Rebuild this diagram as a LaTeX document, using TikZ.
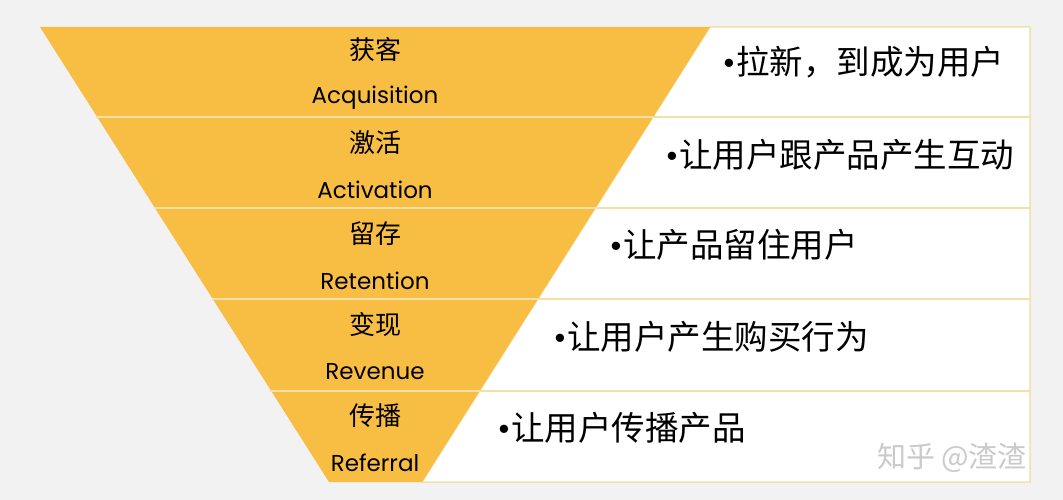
\documentclass[tikz,border=0pt]{standalone}
\usepackage{fontspec}
\setmainfont{Poppins}
\newfontfamily\cjk{Noto Sans CJK SC}
\definecolor{funnel}{HTML}{F8BE43}
\definecolor{rule}{HTML}{F3E0A8}
\definecolor{paper}{HTML}{F2F2F2}
\definecolor{mark}{HTML}{CACACA}

\begin{document}
\begin{tikzpicture}[x=1pt,y=-1pt,
  zh/.style={inner sep=0,font=\cjk\fontsize{26}{26}\selectfont},
  en/.style={inner sep=0,font=\fontsize{23}{23}\selectfont},
  desc/.style={anchor=west,inner sep=0,font=\fontsize{33.5}{33.5}\selectfont}]
\fill[paper] (0,0) rectangle (1063,500);
\useasboundingbox (0,0) rectangle (1063,500);
\filldraw[fill=white,draw=rule,line width=1.5] (710,27) -- (1030,27) -- (1030,482) -- (422,482) -- cycle;
\fill[funnel] (40,27) -- (710,27) -- (422,482) -- (329,482) -- cycle;
% separators
\draw[rule,line width=2] (96,117) -- (1030,117);
\draw[rule,line width=2] (154,208) -- (1030,208);
\draw[rule,line width=2] (212,299) -- (1030,299);
\draw[rule,line width=2] (270,391) -- (1030,391);
% stage names
\node[zh] (acqzh) at (375,50) {获客};
\node[en] (acqen) at (375,98) {Acquisition};
\node[zh] (actzh) at (375,143) {激活};
\node[en] (acten) at (375,190) {Activation};
\node[zh] (retzh) at (375,234) {留存};
\node[en] (reten) at (375,281) {Retention};
\node[zh] (revzh) at (375,325) {变现};
\node[en] (reven) at (375,372) {Revenue};
\node[zh] (refzh) at (375,416) {传播};
\node[en] (refen) at (375,463) {Referral};
% descriptions
\node[desc] (acqdesc) at (722,62) {•\cjk 拉新，到成为用户};
\node[desc] (actdesc) at (665,155) {•\cjk 让用户跟产品产生互动};
\node[desc] (retdesc) at (609,245) {•\cjk 让产品留住用户};
\node[desc] (revdesc) at (553,337) {•\cjk 让用户产生购买行为};
\node[desc] (refdesc) at (497,428) {•\cjk 让用户传播产品};
% watermark
\node[inner sep=0,text=mark,font=\cjk\fontsize{29}{29}\selectfont] (zhihu) at (952,458) {知乎 @渣渣};
\end{tikzpicture}
\end{document}
